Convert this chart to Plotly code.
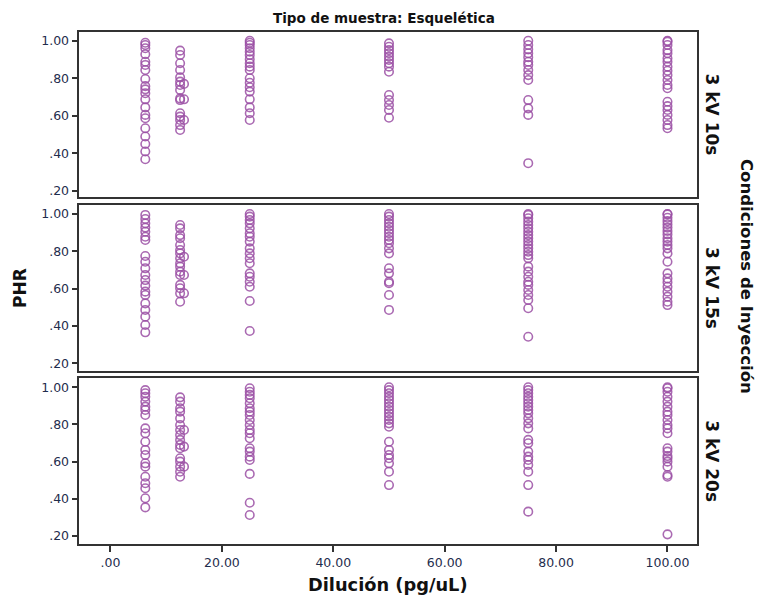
import plotly.graph_objects as go

# ---- data ----
panel_labels = ["3 kV 10s", "3 kV 15s", "3 kV 20s"]
x_tick_vals = [0, 20, 40, 60, 80, 100]
x_tick_text = [".00", "20.00", "40.00", "60.00", "80.00", "100.00"]
y_tick_vals = [0.2, 0.4, 0.6, 0.8, 1.0]
y_tick_text = [".20", ".40", ".60", ".80", "1.00"]

# Panel 1: 3 kV 10s  (dilution -> PHR values)
p1_d625 = [0.989, 0.977, 0.96, 0.928, 0.888, 0.871, 0.844, 0.796, 0.758, 0.741, 0.72, 0.688, 0.645, 0.605, 0.587, 0.534, 0.49, 0.45, 0.41, 0.369]
p1_d125 = [0.947, 0.924, 0.88, 0.844, 0.805, 0.782, 0.764, 0.738, 0.693, 0.684, 0.614, 0.596, 0.578, 0.551, 0.525]
p1_d132 = [0.77, 0.688, 0.578]
p1_d25 = [1.0, 0.989, 0.977, 0.96, 0.941, 0.924, 0.901, 0.88, 0.862, 0.844, 0.8, 0.776, 0.752, 0.729, 0.688, 0.645, 0.614, 0.578]
p1_d50 = [0.986, 0.968, 0.95, 0.933, 0.915, 0.897, 0.88, 0.862, 0.835, 0.711, 0.684, 0.658, 0.631, 0.59]
p1_d75 = [1.0, 0.977, 0.954, 0.933, 0.912, 0.888, 0.871, 0.844, 0.817, 0.791, 0.684, 0.64, 0.605, 0.348]
p1_d100 = [1.0, 0.995, 0.977, 0.95, 0.933, 0.906, 0.888, 0.862, 0.84, 0.817, 0.791, 0.764, 0.747, 0.675, 0.652, 0.631, 0.605, 0.578, 0.551, 0.534]

# Panel 2: 3 kV 15s
p2_d625 = [0.995, 0.973, 0.95, 0.927, 0.905, 0.878, 0.861, 0.775, 0.744, 0.709, 0.673, 0.646, 0.616, 0.584, 0.566, 0.521, 0.486, 0.45, 0.405, 0.366]
p2_d125 = [0.941, 0.923, 0.887, 0.87, 0.834, 0.807, 0.789, 0.763, 0.736, 0.718, 0.691, 0.673, 0.62, 0.602, 0.575, 0.53]
p2_d132 = [0.771, 0.673, 0.575]
p2_d25 = [1.0, 0.986, 0.968, 0.95, 0.923, 0.897, 0.878, 0.852, 0.816, 0.789, 0.763, 0.736, 0.682, 0.664, 0.637, 0.61, 0.534, 0.373]
p2_d50 = [1.0, 0.986, 0.968, 0.95, 0.932, 0.914, 0.897, 0.878, 0.861, 0.843, 0.816, 0.789, 0.709, 0.682, 0.637, 0.629, 0.566, 0.486]
p2_d75 = [1.0, 0.995, 0.977, 0.959, 0.941, 0.923, 0.905, 0.887, 0.87, 0.852, 0.834, 0.816, 0.798, 0.78, 0.763, 0.718, 0.691, 0.664, 0.637, 0.62, 0.593, 0.566, 0.539, 0.495, 0.342]
p2_d100 = [1.0, 0.998, 0.98, 0.962, 0.945, 0.927, 0.909, 0.891, 0.87, 0.852, 0.834, 0.816, 0.789, 0.744, 0.682, 0.655, 0.634, 0.61, 0.584, 0.557, 0.53, 0.512]

# Panel 3: 3 kV 20s
p3_d625 = [0.985, 0.968, 0.949, 0.923, 0.896, 0.878, 0.851, 0.779, 0.753, 0.707, 0.663, 0.636, 0.591, 0.573, 0.519, 0.484, 0.457, 0.403, 0.354]
p3_d125 = [0.946, 0.923, 0.887, 0.869, 0.833, 0.797, 0.77, 0.743, 0.717, 0.69, 0.672, 0.618, 0.6, 0.573, 0.546, 0.519]
p3_d132 = [0.77, 0.681, 0.573]
p3_d25 = [0.995, 0.976, 0.959, 0.941, 0.914, 0.887, 0.869, 0.851, 0.824, 0.797, 0.77, 0.753, 0.726, 0.672, 0.654, 0.627, 0.609, 0.534, 0.379, 0.313]
p3_d50 = [1.0, 0.985, 0.968, 0.949, 0.932, 0.914, 0.896, 0.878, 0.86, 0.842, 0.824, 0.806, 0.788, 0.707, 0.663, 0.636, 0.618, 0.591, 0.546, 0.474]
p3_d75 = [1.0, 0.985, 0.968, 0.949, 0.932, 0.914, 0.896, 0.878, 0.86, 0.833, 0.806, 0.779, 0.717, 0.699, 0.654, 0.627, 0.609, 0.582, 0.546, 0.474, 0.331]
p3_d100 = [1.0, 0.995, 0.976, 0.949, 0.923, 0.896, 0.869, 0.851, 0.824, 0.797, 0.779, 0.753, 0.672, 0.654, 0.63, 0.618, 0.6, 0.573, 0.528, 0.519, 0.209]

dilutions = [6.25, 12.5, 13.2, 25, 50, 75, 100]
panels = [
    [p1_d625, p1_d125, p1_d132, p1_d25, p1_d50, p1_d75, p1_d100],
    [p2_d625, p2_d125, p2_d132, p2_d25, p2_d50, p2_d75, p2_d100],
    [p3_d625, p3_d125, p3_d132, p3_d25, p3_d50, p3_d75, p3_d100],
]

# ---- figure ----
W, H = 760, 599
color = "rgba(155,80,165,0.85)"
tick_font = dict(family="DejaVu Sans", size=12.5, color="#1f2d4d")

fig = go.Figure()
# panel pixel extents (top, bottom)
panel_px = [(31.7, 197.3), (205.0, 371.0), (378.3, 544.0)]
x_left, x_right = 79.3, 697.0

for i, groups in enumerate(panels):
    xs, ys = [], []
    for d, vals in zip(dilutions, groups):
        xs += [d] * len(vals)
        ys += vals
    sfx = "" if i == 0 else str(i + 1)
    fig.add_trace(go.Scatter(
        x=xs, y=ys, mode="markers", xaxis="x" + sfx, yaxis="y" + sfx,
        marker=dict(symbol="circle-open", size=8.5, color=color, line=dict(width=1.6, color=color)),
        showlegend=False, hoverinfo="x+y"))

layout = dict(width=W, height=H, margin=dict(l=0, r=0, t=0, b=0),
              paper_bgcolor="white", plot_bgcolor="white", showlegend=False)

for i, (top, bot) in enumerate(panel_px):
    sfx = "" if i == 0 else str(i + 1)
    dom_y = [1 - bot / H, 1 - top / H]
    last = (i == 2)
    layout["xaxis" + sfx] = dict(
        domain=[x_left / W, x_right / W], range=[-5.6, 105.3],
        anchor="y" + sfx, showgrid=False, zeroline=False,
        showline=True, linecolor="#333", linewidth=1.5, mirror=True,
        tickvals=x_tick_vals, ticktext=x_tick_text,
        showticklabels=last, ticks="outside" if last else "",
        ticklen=6, tickwidth=1.5, tickcolor="#333", tickfont=tick_font,
        matches=None if i == 0 else "x")
    # y range computed so that 1.00 and .20 land on reference pixel positions
    yt = [40.7, 214.0, 387.3][i]
    yb = [191.0, 363.3, 536.0][i]
    ppu = (yb - yt) / 0.8
    rng = [0.2 - (bot - yb) / ppu, 1.0 + (yt - top) / ppu]
    layout["yaxis" + sfx] = dict(
        domain=dom_y, range=rng, anchor="x" + sfx,
        showgrid=False, zeroline=False,
        showline=True, linecolor="#333", linewidth=1.5, mirror=True,
        tickvals=y_tick_vals, ticktext=y_tick_text,
        ticks="outside", ticklen=6, tickwidth=1.5, tickcolor="#333",
        tickfont=tick_font)

fig.update_layout(**layout)

def label(text, px, py, size, angle=0):
    return dict(text=text, x=px / W, y=1 - py / H, xref="paper", yref="paper",
                xanchor="center", yanchor="middle", textangle=angle, showarrow=False,
                font=dict(family="DejaVu Sans", size=size, color="#111"))

ann = [
    label("<b>Tipo de muestra: Esquelética</b>", 384, 18, 13.5),
    label("<b>Dilución (pg/uL)</b>", 388, 584, 17.8),
    label("<b>PHR</b>", 20, 288, 17, -90),
    label("<b>Condiciones de Inyección</b>", 746, 276, 16.5, 90),
]
for lbl, (top, bot) in zip(panel_labels, panel_px):
    ann.append(label("<b>" + lbl + "</b>", 712, (top + bot) / 2, 17, 90))
fig.update_layout(annotations=ann)

fig.write_html("out.html")
